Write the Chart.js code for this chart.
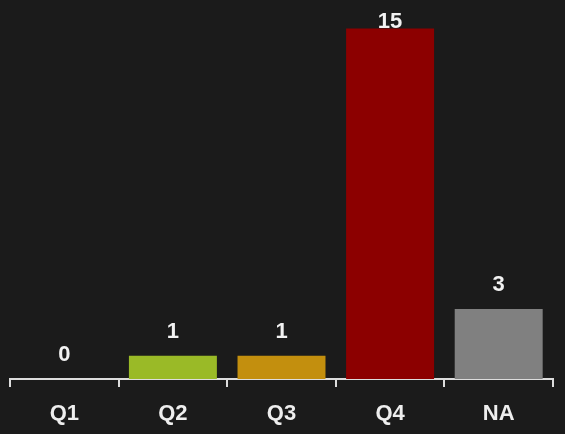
<!DOCTYPE html>
<html>
<head>
<meta charset="utf-8">
<script src="https://cdn.jsdelivr.net/npm/chart.js@4/dist/chart.umd.min.js"></script>
<style>
  html, body { margin: 0; padding: 0; background: #1b1b1b; }
  #wrap { width: 565px; height: 434px; }
</style>
</head>
<body>
<div id="wrap"><canvas id="barChart" width="565" height="434"></canvas></div>
<script>
const kategori = ["Q1", "Q2", "Q3", "Q4", "NA"];
const nilai = [0, 1, 1, 15, 3];
const warnaBar = ["#9aba27", "#9aba27", "#c38f0e", "#8c0000", "#808080"];

// label angka di atas tiap bar
const labelAtas = {
  id: "labelAtas",
  afterDatasetsDraw(chart) {
    const ctx = chart.ctx;
    const meta = chart.getDatasetMeta(0);
    ctx.save();
    ctx.font = "bold 22px 'Liberation Sans', Arial, sans-serif";
    ctx.fillStyle = "#f2f2f2";
    ctx.textAlign = "center";
    ctx.textBaseline = "middle";
    meta.data.forEach((bar, i) => {
      const y = Math.max(bar.y - 24, 22);
      ctx.fillText(String(nilai[i]), bar.x, y);
    });
    ctx.restore();
  }
};

new Chart(document.getElementById("barChart"), {
  type: "bar",
  data: {
    labels: kategori,
    datasets: [{
      data: nilai,
      backgroundColor: warnaBar,
      borderWidth: 0,
      categoryPercentage: 1,
      barPercentage: 0.81
    }]
  },
  options: {
    responsive: false,
    animation: false,
    layout: { padding: { top: 5, left: 10, right: 12, bottom: 0 } },
    plugins: { legend: { display: false }, tooltip: { enabled: false } },
    scales: {
      y: { display: false, min: 0, max: 16 },
      x: {
        afterFit(scale) { scale.height = 55; },
        grid: { display: true, drawOnChartArea: false, offset: true, tickLength: 8, color: "#dddddd", lineWidth: 2 },
        border: { display: true, color: "#dddddd", width: 2 },
        ticks: {
          color: "#eeeeee",
          padding: 14,
          font: { family: "'Liberation Sans', Arial, sans-serif", size: 22, weight: "bold" }
        }
      }
    }
  },
  plugins: [labelAtas]
});
</script>
</body>
</html>
